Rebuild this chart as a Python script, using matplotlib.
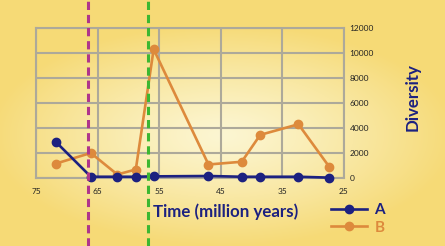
import numpy as np
import matplotlib
matplotlib.use('Agg')
import matplotlib.pyplot as plt
from matplotlib.lines import Line2D
from matplotlib.transforms import blended_transform_factory

#time points (million years ago)
times = [71.8, 66.1, 61.8, 58.8, 55.9, 47.0, 41.6, 38.6, 32.4, 27.4]
diversity_a = [2900, 100, 100, 100, 130, 160, 100, 100, 100, 30]
diversity_b = [1150, 2000, 280, 680, 10300, 1080, 1300, 3450, 4300, 900]

x_ticks = [75, 65, 55, 45, 35, 25]
y_ticks = [0, 2000, 4000, 6000, 8000, 10000, 12000]

#event lines
event_times = [66.6, 56.8]
event_colors = ['#B0358C', '#3CB831']

navy = '#1C2180'
orange = '#DD8A3C'
grid_col = '#ADA99A'

plt.rcParams['font.family'] = ['Lato', 'DejaVu Sans']

fig = plt.figure(figsize=(4.45, 2.46), dpi=100)

#radial yellow background, lighter in the middle
bg = fig.add_axes([0, 0, 1, 1], zorder=-10)
gx, gy = np.meshgrid(np.linspace(-1, 1, 445), np.linspace(-1, 1, 246))
r = np.clip(np.sqrt((gx * 0.95) ** 2 + ((gy - 0.1) * 1.1) ** 2), 0, 1)
inner = np.array([252, 246, 210]) / 255
outer = np.array([246, 218, 118]) / 255
img = inner[None, None, :] * (1 - r[..., None] ** 1.2) + outer[None, None, :] * r[..., None] ** 1.2
bg.imshow(img, aspect='auto', extent=[0, 1, 0, 1])
bg.axis('off')

ax = fig.add_axes([36 / 445, 68 / 246, 308 / 445, 150 / 246])
ax.patch.set_alpha(0)

ax.plot(times, diversity_a, color=navy, lw=1.9, marker='o', ms=6, zorder=4, clip_on=False)
ax.plot(times, diversity_b, color=orange, lw=1.9, marker='o', ms=6, zorder=3, clip_on=False)

ax.set_xlim(75, 25)
ax.set_ylim(0, 12000)
ax.set_xticks(x_ticks)
ax.set_yticks(y_ticks)
ax.grid(True, color=grid_col, lw=1.5)
ax.set_axisbelow(True)
for s in ax.spines.values():
    s.set_color(grid_col)
    s.set_linewidth(1.5)

ax.yaxis.tick_right()
ax.tick_params(length=0, labelsize=6, colors='#222222')
ax.tick_params(axis='x', pad=7)
ax.tick_params(axis='y', pad=4)

ax.set_xlabel('Time (million years)', color=navy, fontsize=12.2, fontweight='bold')
ax.xaxis.set_label_coords((226 - 36) / 308, -25 / 150)
ax.yaxis.set_label_position('right')
ax.set_ylabel('Diversity', color=navy, fontsize=12.2, fontweight='bold', rotation=90)
ax.yaxis.set_label_coords((405 - 36) / 308, (178 - 97) / 150)

#dashed event lines run over the whole picture
trans = blended_transform_factory(ax.transData, fig.transFigure)
for t, c in zip(event_times, event_colors):
    ax.plot([t, t], [0, 1], transform=trans, color=c, lw=2.2,
            dashes=(2.7, 1.6), clip_on=False, zorder=6)

handles = [Line2D([], [], color=navy, lw=1.9, marker='o', ms=6),
           Line2D([], [], color=orange, lw=1.9, marker='o', ms=6)]
leg = fig.legend(handles, ['A', 'B'], loc='center left',
                 bbox_to_anchor=(317 / 445, 1 - 219 / 246), frameon=False,
                 handlelength=2.35, handletextpad=0.5, labelspacing=0.2,
                 prop={'size': 11, 'weight': 'bold'})
for txt, c in zip(leg.get_texts(), [navy, orange]):
    txt.set_color(c)

fig.savefig('out.png', dpi=100)
